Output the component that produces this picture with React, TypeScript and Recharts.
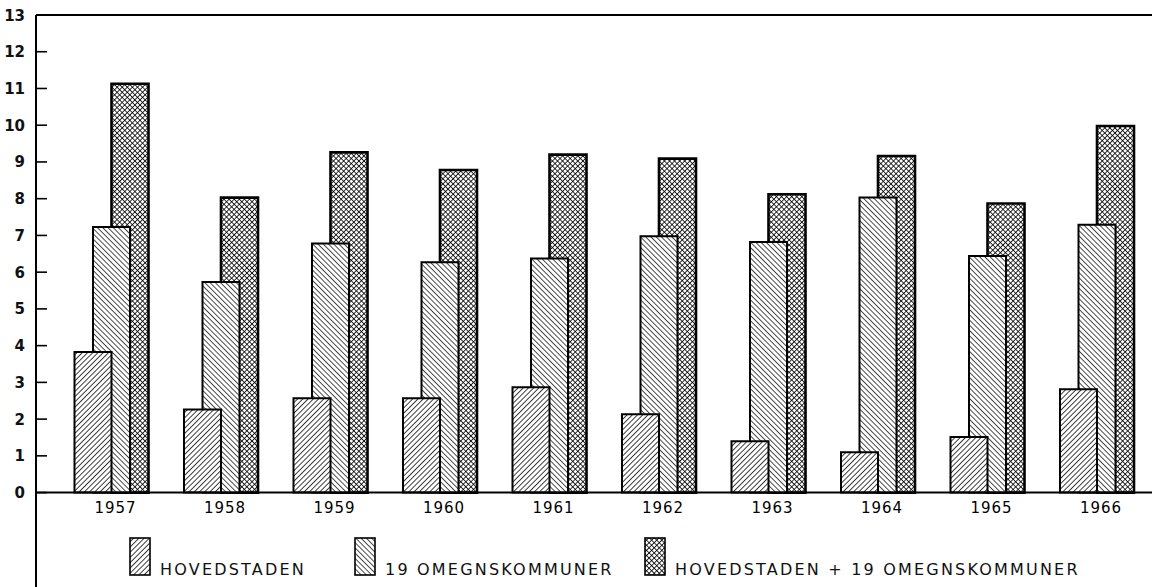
import React from "react";
import {
  BarChart,
  Bar,
  XAxis,
  YAxis,
  ReferenceLine,
  LabelList,
  Rectangle,
} from "recharts";

// Boligbyggeri pr. 1000 indbyggere
const YEARS = ["1957", "1958", "1959", "1960", "1961", "1962", "1963", "1964", "1965", "1966"];
const HOVEDSTADEN = [3.83, 2.26, 2.57, 2.57, 2.87, 2.13, 1.4, 1.1, 1.51, 2.81];
const OMEGN = [7.23, 5.73, 6.78, 6.27, 6.37, 6.98, 6.82, 8.03, 6.44, 7.29];
const SAMLET = [11.13, 8.03, 9.26, 8.78, 9.2, 9.09, 8.12, 9.16, 7.87, 9.98];
const Y_TICKS = [0, 1, 2, 3, 4, 5, 6, 7, 8, 9, 10, 11, 12, 13];
const LEGEND = [
  { key: "hoved", label: "HOVEDSTADEN", pattern: "fwd" },
  { key: "omegn", label: "19 OMEGNSKOMMUNER", pattern: "back" },
  { key: "samlet", label: "HOVEDSTADEN + 19 OMEGNSKOMMUNER", pattern: "cross" },
];

// legend placement (layout only)
const LEGEND_LEFT = [129, 354, 644];

const data = YEARS.map((year, i) => ({
  year,
  hoved: HOVEDSTADEN[i],
  omegn: OMEGN[i],
  samlet: SAMLET[i],
}));

const FONT = "'DejaVu Sans', sans-serif";

function Patterns({ prefix }: { prefix: string }) {
  return (
    <defs>
      <pattern id={`${prefix}-fwd`} width="3.7" height="3.7" patternUnits="userSpaceOnUse" patternTransform="rotate(45)">
        <rect width="3.7" height="3.7" fill="#fff" />
        <line x1="0" y1="0" x2="0" y2="3.7" stroke="#000" strokeWidth="1.5" />
      </pattern>
      <pattern id={`${prefix}-back`} width="3.7" height="3.7" patternUnits="userSpaceOnUse" patternTransform="rotate(-45)">
        <rect width="3.7" height="3.7" fill="#fff" />
        <line x1="0" y1="0" x2="0" y2="3.7" stroke="#000" strokeWidth="1.4" />
      </pattern>
      <pattern id={`${prefix}-cross`} width="3.6" height="3.6" patternUnits="userSpaceOnUse" patternTransform="rotate(45)">
        <rect width="3.6" height="3.6" fill="#fff" />
        <line x1="0" y1="0" x2="0" y2="3.6" stroke="#000" strokeWidth="1.6" />
        <line x1="0" y1="0" x2="3.6" y2="0" stroke="#000" strokeWidth="1.6" />
      </pattern>
    </defs>
  );
}

// bars share one slot; each is shifted sideways so they overlap like in the print
const shifted = (dx: number) => (props: any) => (
  <Rectangle
    x={props.x + dx}
    y={props.y}
    width={props.width}
    height={props.height}
    fill={props.fill}
    stroke={props.stroke}
    strokeWidth={props.strokeWidth}
  />
);

const YTick = ({ x, y, payload }: any) => (
  <g>
    <line x1={x} x2={x + 11} y1={y} y2={y} stroke="#000" strokeWidth={1.6} />
    <text x={x - 11} y={y} dy={5.5} textAnchor="end" fontFamily={FONT} fontWeight="bold" fontSize={15} fill="#111">
      {payload.value}
    </text>
  </g>
);

const YearLabel = (props: any) => {
  const vb = props.viewBox || props;
  return (
    <text
      x={vb.x + vb.width / 2 + 4}
      y={vb.y + vb.height + 20}
      textAnchor="middle"
      fontFamily={FONT}
      fontSize={15}
      letterSpacing={0.9}
      fill="#000"
    >
      {props.value}
    </text>
  );
};

export default function App() {
  return (
    <div style={{ position: "absolute", left: 0, top: 0, width: 1169, height: 587, background: "#fff" }}>
      <BarChart
        width={1169}
        height={587}
        data={data}
        margin={{ top: 15, right: 17, bottom: 0, left: 0 }}
        barSize={37}
        barGap={-37}
      >
        <Patterns prefix="c" />
        <XAxis dataKey="year" hide padding={{ left: 21, right: 0 }} />
        <YAxis
          width={36}
          domain={[-2.57, 13]}
          ticks={Y_TICKS}
          interval={0}
          allowDataOverflow
          axisLine={{ stroke: "#000", strokeWidth: 2 }}
          tickLine={false}
          tickSize={0}
          tickMargin={0}
          tick={<YTick />}
        />
        <ReferenceLine y={13} stroke="#000" strokeWidth={2} />
        <Bar dataKey="samlet" fill="url(#c-cross)" stroke="#000" strokeWidth={2.6} shape={shifted(18.5)} isAnimationActive={false} />
        <Bar dataKey="omegn" fill="url(#c-back)" stroke="#000" strokeWidth={2} shape={shifted(0)} isAnimationActive={false}>
          <LabelList dataKey="year" content={<YearLabel />} />
        </Bar>
        <Bar dataKey="hoved" fill="url(#c-fwd)" stroke="#000" strokeWidth={2} shape={shifted(-18.5)} isAnimationActive={false} />
        <ReferenceLine y={0} stroke="#000" strokeWidth={2} />
      </BarChart>
      {LEGEND.map((item, i) => (
        <div
          key={item.key}
          style={{
            position: "absolute",
            left: LEGEND_LEFT[i],
            top: 537,
            display: "flex",
            alignItems: "flex-end",
            fontFamily: FONT,
            fontSize: 16,
            letterSpacing: 2.2,
            color: "#111",
          }}
        >
          <svg width={22} height={39} style={{ display: "block" }}>
            <Patterns prefix={`l-${item.key}`} />
            <rect x={1} y={1} width={20} height={37} fill={`url(#l-${item.key}-${item.pattern})`} stroke="#000" strokeWidth={1.6} />
          </svg>
          <span style={{ marginLeft: 9, lineHeight: "13px", whiteSpace: "nowrap" }}>{item.label}</span>
        </div>
      ))}
    </div>
  );
}
